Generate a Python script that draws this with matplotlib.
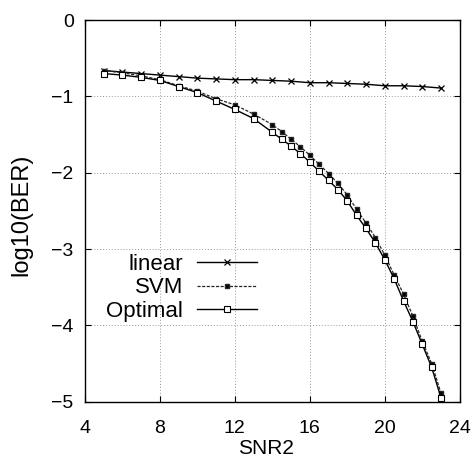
"""Recreate the BER vs SNR2 comparison chart (linear, SVM, optimal)."""

import matplotlib

matplotlib.use("Agg")
from matplotlib import pyplot as plt

plt.rcParams["font.family"] = ["Liberation Sans", "DejaVu Sans"]

SNR_LINEAR = [5, 6, 7, 8, 9, 10, 11, 12, 13, 14, 15, 16, 17, 18, 19, 20, 21, 22, 23]
BER_LINEAR = [-0.66, -0.68, -0.70, -0.72, -0.74, -0.76, -0.77, -0.78, -0.78, -0.79,
              -0.80, -0.82, -0.82, -0.83, -0.84, -0.86, -0.86, -0.87, -0.89]

SNR_FINE = [5, 6, 7, 8, 9, 10, 11, 12, 13, 14, 14.5, 15, 15.5, 16, 16.5, 17, 17.5,
            18, 18.5, 19, 19.5, 20, 20.5, 21, 21.5, 22, 22.5, 23]
BER_SVM = [-0.66, -0.69, -0.73, -0.78, -0.86, -0.93, -1.03, -1.11, -1.23, -1.37,
           -1.46, -1.56, -1.66, -1.77, -1.89, -2.01, -2.14, -2.29, -2.48, -2.66,
           -2.85, -3.08, -3.34, -3.59, -3.88, -4.21, -4.50, -4.89]
BER_OPTIMAL = [-0.70, -0.72, -0.75, -0.79, -0.87, -0.95, -1.06, -1.17, -1.29, -1.47,
               -1.56, -1.65, -1.75, -1.86, -1.98, -2.10, -2.22, -2.37, -2.56, -2.73,
               -2.92, -3.14, -3.39, -3.68, -3.95, -4.25, -4.55, -4.95]

X_TICKS = [4, 8, 12, 16, 20, 24]
Y_TICKS = [0, -1, -2, -3, -4, -5]

fig = plt.figure(figsize=(4.74, 4.58), dpi=100)
ax = fig.add_axes([0.179, 0.123, 0.791, 0.833])

ax.plot(SNR_LINEAR, BER_LINEAR, color="black", linewidth=1.0, marker="x",
        markersize=4, markeredgewidth=0.9, label="linear")
ax.plot(SNR_FINE, BER_SVM, color="0.15", linewidth=0.9, linestyle=(0, (2.5, 1.2)),
        marker="s", markersize=3, markerfacecolor="black", label="SVM")
ax.plot(SNR_FINE, BER_OPTIMAL, color="black", linewidth=1.0, marker="s",
        markersize=4, markerfacecolor="white", markeredgewidth=0.8, label="Optimal")

ax.set_xlim(4, 24)
ax.set_ylim(-5, 0)
ax.set_xticks(X_TICKS)
ax.set_yticks(Y_TICKS)
ax.tick_params(direction="in", top=True, right=True, labelsize=14, length=4)
ax.tick_params(axis="x", pad=13)
ax.tick_params(axis="y", pad=8)
ax.grid(True, color="0.6", linestyle=(0, (1, 2)), linewidth=0.7)
for spine in ax.spines.values():
    spine.set_linewidth(1.0)

ax.set_xlabel("SNR2", fontsize=15)
ax.xaxis.set_label_coords(0.483, -0.099)
ax.set_ylabel("log10(BER)", fontsize=17)
ax.yaxis.set_label_coords(-0.141, 0.49)

ax.legend(loc="center right", bbox_to_anchor=(0.459, 0.298), frameon=False,
          markerfirst=False, fontsize=16, handlelength=2.7, handletextpad=0.63,
          labelspacing=0.1, borderpad=0, borderaxespad=0)

fig.savefig("out.png", dpi=100)
